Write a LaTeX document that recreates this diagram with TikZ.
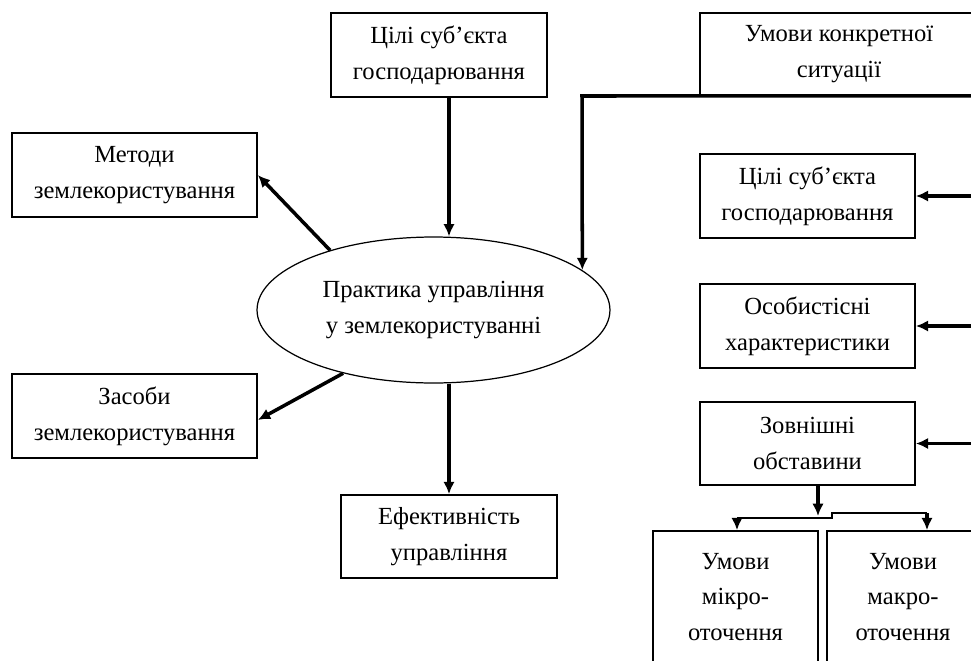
\documentclass[tikz,border=0pt]{standalone}
\usepackage{fontspec}
\setmainfont{Liberation Serif}
\usetikzlibrary{shapes.geometric,arrows.meta}
\begin{document}
\begin{tikzpicture}[x=0.02cm,y=-0.02cm,font=\rmfamily\fontsize{14}{20.4}\selectfont,
  box/.style={draw,line width=1pt,align=center,inner sep=0pt,minimum width=4.32cm,minimum height=1.68cm},
  arr/.style={line width=2pt,-{Latex[length=7pt,width=6.5pt]}},
  link/.style={line width=1.1pt}]
\useasboundingbox (0,0) rectangle (971,660);
\clip (0,0) rectangle (971,660);
\node[box] (cil) at (439,55) {Цілі суб’єкта\\господарювання};
\node[box,minimum width=5.56cm,minimum height=1.64cm] (umk) at (839,54) {Умови конкретної\\ситуації};
\node[box,minimum width=4.9cm] (met) at (134.5,175) {Методи\\землекористування};
\node[box,minimum width=4.9cm] (zas) at (134.5,416) {Засоби\\землекористування};
\node[box,minimum height=1.66cm] (ef) at (449,536.5) {Ефективність\\управління};
\node[ellipse,draw,line width=0.7pt,inner sep=0pt,align=center,minimum width=7.06cm,minimum height=2.92cm] (ell) at (433.5,310) {Практика управління\\у землекористуванні};
\node[box,minimum width=4.3cm] (cil2) at (807.5,196) {Цілі суб’єкта\\господарювання};
\node[box,minimum width=4.3cm] (osob) at (807.5,326) {Особистісні\\характеристики};
\node[box,minimum width=4.3cm,minimum height=1.66cm] (zov) at (807.5,443.5) {Зовнішні\\обставини};
\node[box,minimum width=3.3cm,minimum height=2.64cm] (mik) at (735.5,597) {Умови\\мікро-\\оточення};
\node[box,minimum width=3.04cm,minimum height=2.64cm] (mak) at (903,597) {Умови\\макро-\\оточення};
\coordinate (k) at (582,96);
\coordinate (rim) at (990,0);
\coordinate (sp) at (818,516);
\coordinate (bl) at (737,518);
\coordinate (br) at (927,513);
\draw[arr] ([xshift=0.2cm]cil.south) -- ([xshift=0.2cm]cil.south |- ell.north);
\draw[arr] (umk.south east) -- (k) -- (ell.15);
\draw[arr] (ell.150) -- (met.east);
\draw[arr] (ell.215) -- ([yshift=-0.08cm]zas.east);
\draw[arr] (ell.south -| ef.north) -- (ef.north);
\draw[arr] (cil2.east -| rim) -- (cil2.east);
\draw[arr] (osob.east -| rim) -- (osob.east);
\draw[arr] (zov.east -| rim) -- (zov.east);
\draw[arr] (zov.south -| sp) -- (sp);
\draw[link] (bl) -- ++(95,0) |- (br);
\draw[arr] (bl) -- (bl |- mik.north);
\draw[arr] (br) -- (br |- mak.north);
\end{tikzpicture}
\end{document}
